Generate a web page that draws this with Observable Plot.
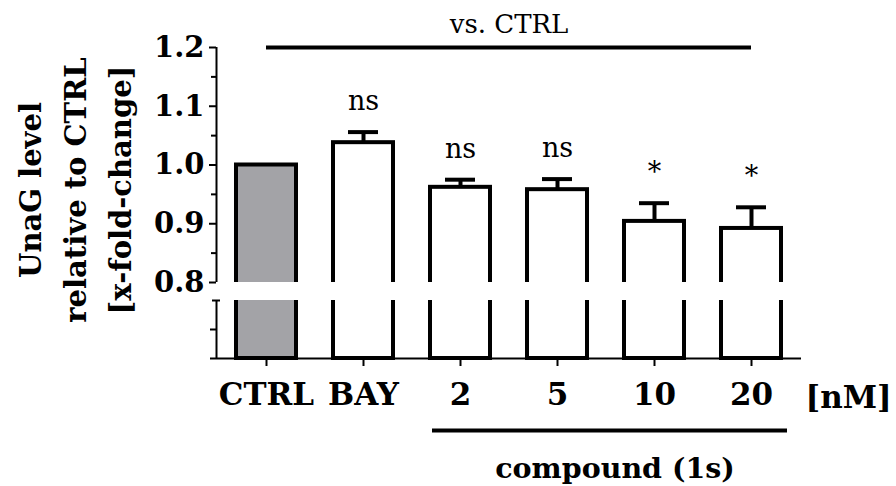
<!DOCTYPE html>
<html><head><meta charset="utf-8">
<script src="https://cdn.jsdelivr.net/npm/d3@7"></script>
<script src="https://cdn.jsdelivr.net/npm/@observablehq/plot@0.6"></script>
<style>
body{margin:0;background:#fff}
svg{display:block}
#chart svg, #chart svg text { font-family: "DejaVu Serif", serif !important; }
</style>
</head><body><div id="chart"></div>
<script>
const categories = ["CTRL", "BAY", "2", "5", "10", "20"];
const means = [1.000, 1.038, 0.962, 0.958, 0.904, 0.892];
const sems = [0, 0.018, 0.013, 0.018, 0.031, 0.036];
const significance = ["", "ns", "ns", "ns", "*", "*"];
const majorTicks = [0.8, 0.9, 1.0, 1.1, 1.2];
const minorTicks = [0.85, 0.95, 1.05, 1.15];
const yTitle = ["UnaG level", "relative to CTRL", "[x-fold-change]"];
const unitLabel = ["[nM]"];
const groupLabel = ["compound (1s)"];
const compareLabel = ["vs. CTRL"];

const data = categories.map((c, i) => ({cat: c, mean: means[i], sem: sems[i], top: means[i] + sems[i], sig: significance[i]}));
const withErr = data.filter(d => d.sem > 0);
const SERIF = "DejaVu Serif";

const plot = Plot.plot({
  width: 896, height: 486,
  marginLeft: 216, marginRight: 95, marginTop: 47, marginBottom: 128,
  style: "background: white; overflow: visible; color: black;",
  x: {type: "band", domain: categories, paddingInner: 0.385, paddingOuter: 0.1925, axis: null},
  y: {type: "linear", domain: [0, 0.7, 0.8, 1.2], range: [358, 300, 282, 47], axis: null},
  marks: [
    Plot.barY(data.filter(d => d.cat === "CTRL"), {x: "cat", y1: 0, y2: "mean", fill: "#a3a3a7", stroke: "black", strokeWidth: 4}),
    Plot.barY(data.filter(d => d.cat !== "CTRL"), {x: "cat", y1: 0, y2: "mean", fill: "white", stroke: "black", strokeWidth: 4}),
    Plot.ruleX(withErr, {x: "cat", y1: "mean", y2: "top", stroke: "black", strokeWidth: 4}),
    Plot.tickY(withErr, {x: "cat", y: "top", stroke: "black", strokeWidth: 4, insetLeft: 15, insetRight: 15}),
    Plot.rect([{lo: 0.7, hi: 0.8}], {y1: "lo", y2: "hi", fill: "white"}),
    Plot.ruleX([{lo: 0.8, hi: 1.2}, {lo: 0, hi: 0.7}], {x: null, y1: "lo", y2: "hi", dx: -292.5, stroke: "black", strokeWidth: 2}),
    Plot.axisY({ticks: majorTicks, tickSize: 7, tickPadding: 5, tickFormat: d3.format(".1f"), fontSize: 29, fontWeight: "bold", fontFamily: SERIF, strokeWidth: 2, label: null}),
    Plot.axisY({ticks: minorTicks, tickSize: 5, tickFormat: () => "", strokeWidth: 2, label: null}),
    Plot.axisY({ticks: [0.35], tickSize: 6, tickFormat: () => "", strokeWidth: 2, label: null}),
    Plot.axisY({ticks: [0.7], tickSize: 8, dx: 4, tickFormat: () => "", strokeWidth: 2, label: null}),
    Plot.ruleY([0], {stroke: "black", strokeWidth: 2, insetLeft: -6}),
    Plot.axisX({tickSize: 8, tickPadding: 16, fontSize: 31, fontWeight: "bold", fontFamily: SERIF, strokeWidth: 2, label: null}),
    Plot.text(data.filter(d => d.sig), {x: "cat", y: "top", text: "sig", dy: -22, lineAnchor: "bottom", fontSize: 27, fontFamily: SERIF}),
    Plot.ruleY([{y: 1.2, a: "CTRL", b: "20"}], {y: "y", x1: "a", x2: "b", insetLeft: 30, insetRight: 30, stroke: "black", strokeWidth: 4}),
    Plot.text(compareLabel, {frameAnchor: "top", text: d => d, lineAnchor: "bottom", dy: -15, fontSize: 26, fontFamily: SERIF}),
    Plot.ruleY([{y: 0, a: "2", b: "20"}], {y: "y", x1: "a", x2: "b", insetLeft: 2, insetRight: -6, dy: 72, stroke: "black", strokeWidth: 4}),
    Plot.text(groupLabel, {frameAnchor: "bottom", text: d => d, lineAnchor: "bottom", dx: 106, dy: 119, fontSize: 28.5, fontWeight: "bold", fontFamily: SERIF}),
    Plot.text(unitLabel, {frameAnchor: "bottom-right", text: d => d, textAnchor: "start", lineAnchor: "bottom", dx: 4, dy: 49, fontSize: 31, fontWeight: "bold", fontFamily: SERIF}),
    Plot.text([yTitle.join("\n")], {frameAnchor: "left", text: d => d, rotate: -90, lineAnchor: "middle", textAnchor: "middle", lineHeight: 1.55, dx: -145, dy: -13, fontSize: 29, fontWeight: "bold", fontFamily: SERIF})
  ]
});
document.getElementById("chart").append(plot);
</script>
</body></html>
